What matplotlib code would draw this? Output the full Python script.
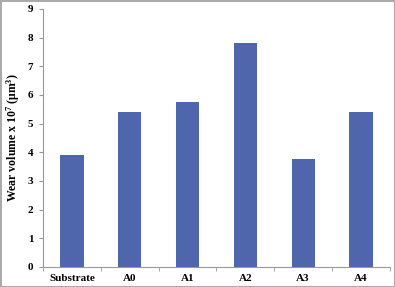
import matplotlib.pyplot as plt
import numpy as np

categories = ["Substrate", "A0", "A1", "A2", "A3", "A4"]
wear_volume = [3.9, 5.4, 5.75, 7.8, 3.75, 5.4]

plt.rcParams['font.family'] = ['Liberation Serif', 'DejaVu Serif']
plt.rcParams['font.weight'] = 'bold'
plt.rcParams['mathtext.fontset'] = 'custom'
plt.rcParams['mathtext.rm'] = 'Liberation Serif:bold'
plt.rcParams['mathtext.bf'] = 'Liberation Serif:bold'
plt.rcParams['mathtext.default'] = 'bf'

fig = plt.figure(figsize=(3.95, 2.87), dpi=100)
ax = fig.add_axes([0.109, 0.07, 0.878, 0.899])

x = np.arange(len(categories))
ax.bar(x, wear_volume, width=0.4, color='#4f66ad')

ax.set_xlim(-0.5, len(categories) - 0.5)
ax.set_ylim(0, 9)
ax.set_yticks(range(0, 10))
ax.set_xticks(x)
ax.set_xticklabels(categories, fontsize=8, fontweight='bold')
ax.set_xticks(np.arange(-0.5, len(categories)), minor=True)
ax.tick_params(axis='x', which='major', length=0, pad=5)
ax.tick_params(axis='x', which='minor', length=3, color='#999999', direction='out')
ax.tick_params(axis='y', length=3, color='#999999', labelsize=8, pad=4)
for t in ax.get_yticklabels():
    t.set_fontweight('bold')

ax.set_ylabel("Wear volume x 10$^{7}$ (\u03bcm$^{3}$)", fontsize=8.5, fontweight='bold')

for s in ['top', 'right']:
    ax.spines[s].set_visible(False)
for s in ['left', 'bottom']:
    ax.spines[s].set_color('#999999')
    ax.spines[s].set_linewidth(0.8)

fig.patch.set_edgecolor('#aaaaaa')
fig.patch.set_linewidth(2)

fig.savefig('out.png', dpi=100, edgecolor=fig.get_edgecolor())
